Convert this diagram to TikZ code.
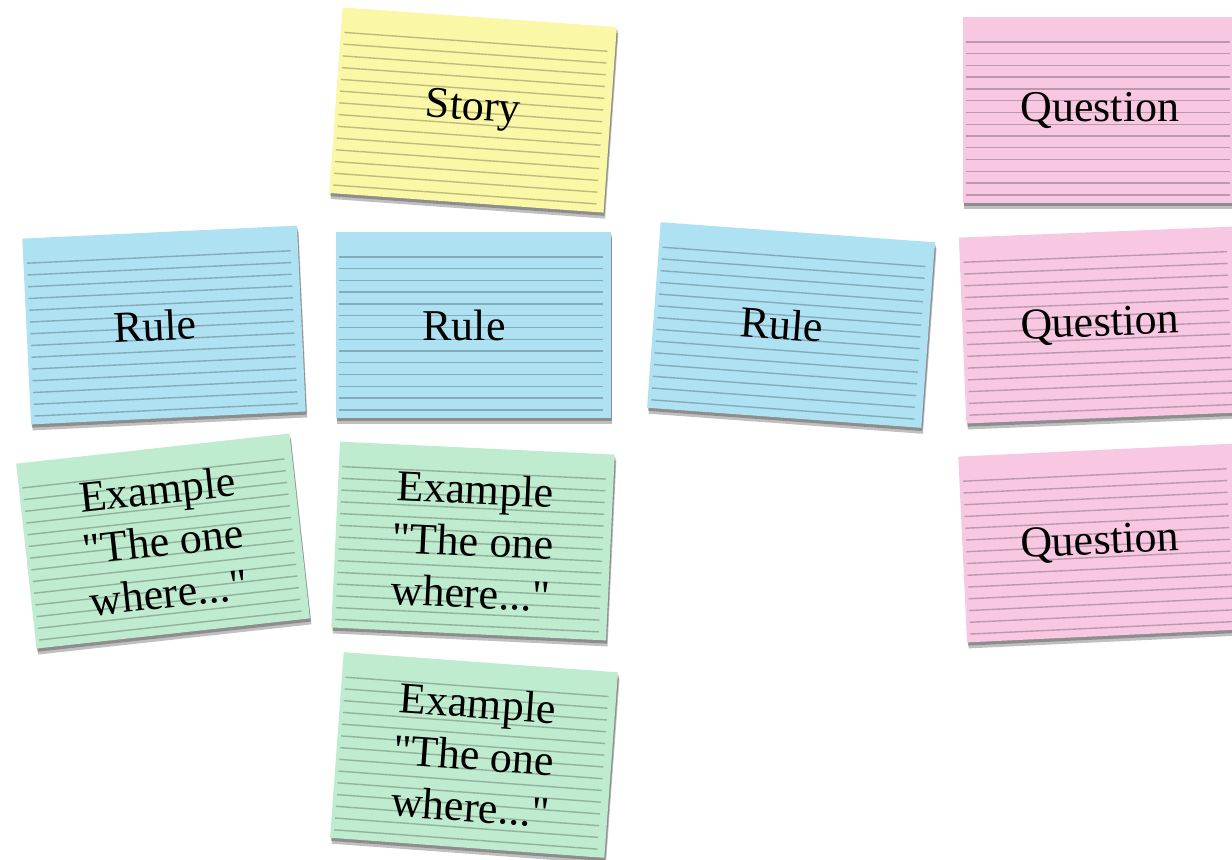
\documentclass[tikz,border=0pt]{standalone}
\usepackage{fontspec}
\setmainfont{Liberation Serif}[Ligatures=TeXOff]
\usetikzlibrary{calc,shadows}

\definecolor{storyyellow}{HTML}{FAF7A6}
\definecolor{ruleblue}{HTML}{AEE2F3}
\definecolor{examplegreen}{HTML}{BFEBCF}
\definecolor{questionpink}{HTML}{F8C8E3}

\tikzset{
  card/.style={fill=#1, minimum width=137.5pt, minimum height=93pt, inner sep=0pt,
    drop shadow={shadow xshift=0.8pt, shadow yshift=-3pt, opacity=0.25, fill=black},
    drop shadow={shadow xshift=0.5pt, shadow yshift=-1.6pt, opacity=0.35, fill=black!80}},
  ruling/.style={draw=black, opacity=0.24, line width=0.7pt, shorten <=2pt, shorten >=4pt},
  cardtext/.style={font=\fontsize{22}{26}\selectfont, align=center, inner sep=0pt}
}

% an index card: name, centre, angle, colour, text
\newcommand{\indexcard}[5]{%
  \node[card=#4, rotate=#3] (#1) at (#2) {};
  \foreach \t in {0.135,0.198,...,0.96}
    \draw[ruling] ($(#1.north west)!\t!(#1.south west)$) -- ($(#1.north east)!\t!(#1.south east)$);
  \node[cardtext, rotate=#3] (#1-label) at (#1.center) {#5};
}

\begin{document}
\begin{tikzpicture}[x=0.5pt, y=-0.5pt]
  \useasboundingbox (0,0) rectangle (1232,859);
  % story and questions
  \indexcard{story}{473,110}{-4.1}{storyyellow}{Story}
  \indexcard{question1}{1100,110}{0}{questionpink}{Question}
  \indexcard{question2}{1100,325}{2.3}{questionpink}{Question}
  \indexcard{question3}{1100,543}{2.7}{questionpink}{Question}
  % rules
  \indexcard{rule1}{164,325}{2.7}{ruleblue}{Rule\hspace*{9pt}}
  \indexcard{rule2}{473,325}{0}{ruleblue}{Rule\hspace*{9pt}}
  \indexcard{rule3}{791,325}{-4.2}{ruleblue}{Rule\hspace*{9pt}}
  % examples
  \indexcard{example1}{163,541}{6.3}{examplegreen}{Example\\"The one\\where..."}
  \indexcard{example2}{473,541}{-2.7}{examplegreen}{Example\\"The one\\where..."}
  \indexcard{example3}{474,755}{-4.2}{examplegreen}{Example\\"The one\\where..."}
\end{tikzpicture}
\end{document}
